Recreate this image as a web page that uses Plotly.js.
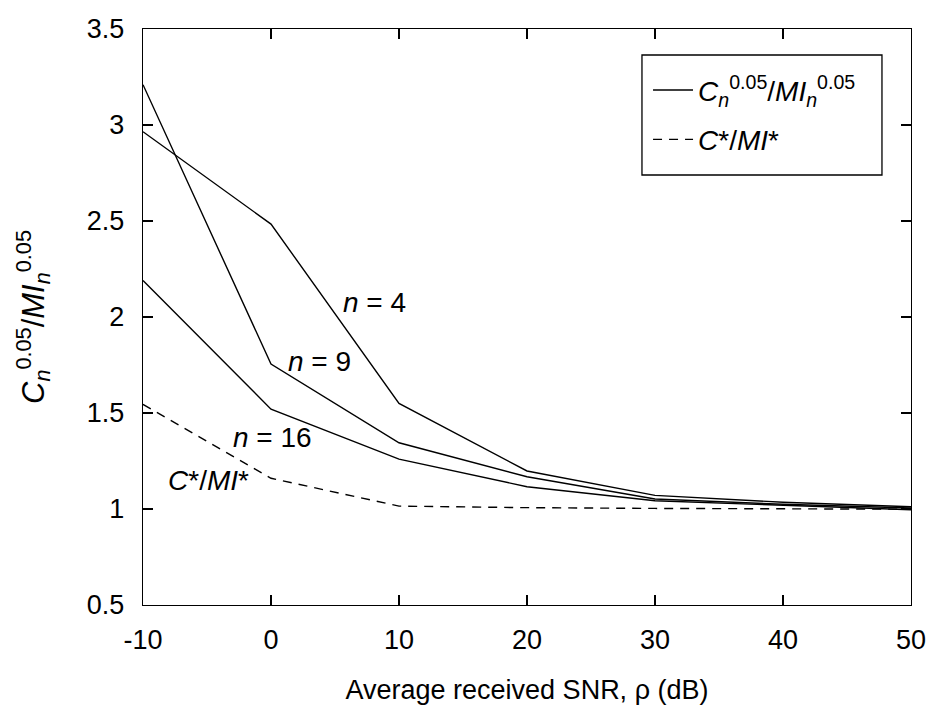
<!DOCTYPE html>
<html>
<head>
<meta charset="utf-8">
<script src="https://cdn.plot.ly/plotly-3.0.1.min.js"></script>
<style>body{margin:0;background:#fff}#chart{width:931px;height:708px}</style>
</head>
<body>
<div id="chart"></div>
<script>
// Data
const snr = [-10, 0, 10, 20, 30, 40, 50];
const ratio_n4 = [2.965, 2.484, 1.55, 1.198, 1.071, 1.035, 1.012];
const ratio_n9 = [3.21, 1.755, 1.345, 1.168, 1.052, 1.025, 1.005];
const ratio_n16 = [2.19, 1.52, 1.26, 1.116, 1.043, 1.02, 0.996];
const ratio_star = [1.545, 1.16, 1.015, 1.007, 1.003, 1.0, 0.999];
const xTickVals = [-10, 0, 10, 20, 30, 40, 50];
const xTickText = ['-10', '0', '10', '20', '30', '40', '50'];
const yTickVals = [0.5, 1, 1.5, 2, 2.5, 3, 3.5];
const yTickText = ['0.5', '1', '1.5', '2', '2.5', '3', '3.5'];
const curveLabels = [
  {text: '<i>n</i> = 4', x: 8.05, y: 2.078},
  {text: '<i>n</i> = 9', x: 3.75, y: 1.766},
  {text: '<i>n</i> = 16', x: 0.08, y: 1.37},
  {text: '<i>C</i>*/<i>MI</i>*', x: -4.92, y: 1.151}
];

const FONT = 'Liberation Sans, Arial, sans-serif';
const solidName = '<i>C<sub>n</sub></i><sup>0.05</sup>/<i>MI<sub>n</sub></i><sup>0.05</sup>';
const line = {color: 'black', width: 1.4};

const traces = [
  {x: snr, y: ratio_n4, mode: 'lines', line: line, name: solidName, showlegend: true, legendgroup: 'a'},
  {x: snr, y: ratio_n9, mode: 'lines', line: line, showlegend: false, legendgroup: 'a'},
  {x: snr, y: ratio_n16, mode: 'lines', line: line, showlegend: false, legendgroup: 'a'},
  {x: snr, y: ratio_star, mode: 'lines', line: {color: 'black', width: 1.4, dash: '9px,7px'}, name: '<i>C</i>*/<i>MI</i>*', showlegend: true, legendgroup: 'b'}
];

const layout = {
  width: 931, height: 708,
  margin: {l: 143, r: 20, t: 29, b: 103},
  paper_bgcolor: 'white', plot_bgcolor: 'white',
  font: {family: FONT, size: 27, color: 'black'},
  showlegend: true,
  legend: {
    x: 0.6576, y: 0.937, xanchor: 'left', yanchor: 'top',
    borderwidth: 0, bgcolor: 'rgba(0,0,0,0)',
    font: {family: FONT, size: 28, color: 'black'},
    itemwidth: 40, tracegroupgap: 10
  },
  shapes: [{
    type: 'rect', xref: 'paper', yref: 'paper',
    x0: 0.6497, x1: 0.9622, y0: 0.7465, y1: 0.9549,
    line: {color: 'black', width: 1.3}, fillcolor: 'rgba(0,0,0,0)', layer: 'above'
  }],
  xaxis: {
    range: [-10, 50], tickmode: 'array', tickvals: xTickVals, ticktext: xTickText,
    ticks: 'inside', ticklen: 10, tickwidth: 1.3, tickcolor: 'black',
    showline: true, linecolor: 'black', linewidth: 1.3, mirror: 'ticks',
    showgrid: false, zeroline: false, ticklabelstandoff: 10,
    tickfont: {family: FONT, size: 27},
    title: {text: 'Average received SNR, ρ (dB)', font: {family: FONT, size: 27}, standoff: 26}
  },
  yaxis: {
    range: [0.5, 3.5], tickmode: 'array', tickvals: yTickVals, ticktext: yTickText,
    ticks: 'inside', ticklen: 10, tickwidth: 1.3, tickcolor: 'black',
    showline: true, linecolor: 'black', linewidth: 1.3, mirror: 'ticks',
    showgrid: false, zeroline: false, ticklabelstandoff: 12,
    tickfont: {family: FONT, size: 27},
    title: {text: solidName, font: {family: FONT, size: 31}, standoff: 33}
  },
  annotations: curveLabels.map(l => ({
    x: l.x, y: l.y, xref: 'x', yref: 'y', text: l.text, showarrow: false,
    font: {family: FONT, size: 28, color: 'black'}, xanchor: 'center', yanchor: 'middle'
  }))
};

Plotly.newPlot('chart', traces, layout, {displayModeBar: false, staticPlot: true});
</script>
</body>
</html>
